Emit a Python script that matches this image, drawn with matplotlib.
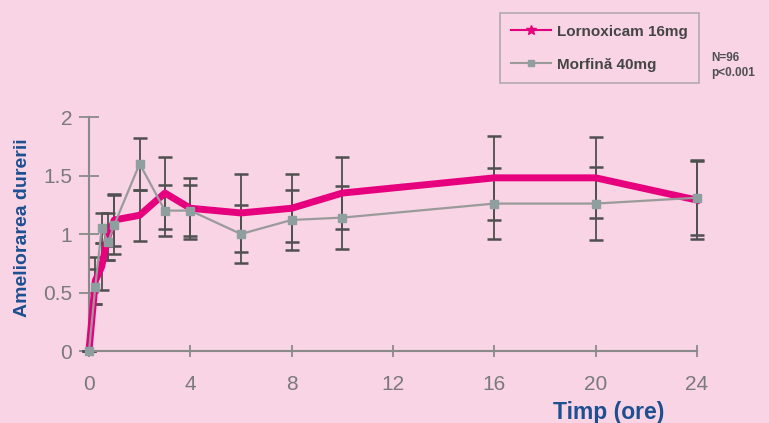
import matplotlib
matplotlib.use("Agg")
from matplotlib import pyplot as plt
from matplotlib.lines import Line2D

plt.rcParams['font.family'] = ['Liberation Sans', 'DejaVu Sans']

BG = '#f8d4e5'
PINK = '#e6007e'
GREY = '#9a9a9a'
BAR = '#505050'

# time points (hours)
timp = [0, 0.25, 0.5, 0.75, 1, 2, 3, 4, 6, 8, 10, 16, 20, 24]

lornoxicam = [0, 0.60, 0.72, 0.98, 1.12, 1.16, 1.35, 1.22, 1.18, 1.22, 1.35, 1.48, 1.48, 1.29]
lornoxicam_err = [0, 0.20, 0.20, 0.20, 0.22, 0.22, 0.31, 0.26, 0.33, 0.29, 0.31, 0.36, 0.345, 0.33]

morfina = [0, 0.55, 1.05, 0.93, 1.08, 1.60, 1.20, 1.20, 1.00, 1.12, 1.14, 1.26, 1.26, 1.31]
morfina_err = [0, 0.15, 0.13, 0.15, 0.25, 0.22, 0.22, 0.22, 0.25, 0.26, 0.27, 0.30, 0.31, 0.32]

xticks = [0, 4, 8, 12, 16, 20, 24]
yticks = [0, 0.5, 1, 1.5, 2]
yticklabels = ['0', '0.5', '1', '1.5', '2']

fig = plt.figure(figsize=(7.69, 4.23), dpi=100, facecolor=BG)
ax = fig.add_axes([0.1157, 0.1702, 0.7906, 0.5532])
ax.set_facecolor(BG)

ax.errorbar(timp, lornoxicam, yerr=lornoxicam_err, fmt='none', ecolor=BAR,
            elinewidth=1.3, capsize=5, capthick=1.8, clip_on=False, zorder=2)
ax.errorbar(timp, morfina, yerr=morfina_err, fmt='none', ecolor=BAR,
            elinewidth=1.3, capsize=5, capthick=1.8, clip_on=False, zorder=2)
ax.plot(timp, lornoxicam, color=PINK, lw=5, solid_joinstyle='round',
        clip_on=False, zorder=3)
ax.plot(timp, morfina, color=GREY, lw=1.6, marker='s', ms=6,
        markerfacecolor='#8f9f9f', markeredgecolor='#8f9f9f', clip_on=False, zorder=4)

ax.set_xlim(0, 24)
ax.set_ylim(0, 2)
ax.set_xticks(xticks)
ax.set_yticks(yticks)
ax.set_yticklabels(yticklabels)
for s in ['top', 'right']:
    ax.spines[s].set_visible(False)
for s in ['left', 'bottom']:
    ax.spines[s].set_color('#8a8a8a')
    ax.spines[s].set_linewidth(1.5)
ax.tick_params(direction='inout', color='#8a8a8a', width=1.3,
               labelcolor='#7a7a7a', labelsize=15)
ax.tick_params(axis='x', length=9, pad=13)
ax.tick_params(axis='y', length=14, pad=5)

fig.text(0.029, 0.461, 'Ameliorarea durerii', rotation=90, ha='center', va='center',
         fontsize=14, fontweight='bold', color='#1d4f91')
fig.text(0.791, 0.026, 'Timp (ore)', ha='center', va='center',
         fontsize=16.5, fontweight='bold', color='#1d4f91')

handles = [Line2D([], [], color=PINK, lw=1.5, marker='*', ms=7),
           Line2D([], [], color=GREY, lw=1.5, marker='s', ms=5,
                  markerfacecolor='#8f9f9f', markeredgecolor='#8f9f9f')]
leg = fig.legend(handles, ['Lornoxicam 16mg', 'Morfină 40mg'],
                 loc='upper left', bbox_to_anchor=(0.650, 0.969), borderaxespad=0,
                 frameon=True, fancybox=False, facecolor=BG, edgecolor='#a0a0a0',
                 fontsize=11, handlelength=2.6, labelspacing=1.25,
                 borderpad=0.75, handletextpad=0.4)
leg.get_frame().set_linewidth(1.2)
for t in leg.get_texts():
    t.set_color('#454545')
    t.set_fontweight('bold')

fig.text(0.925, 0.845, 'N=96\np<0.001', ha='left', va='center', fontsize=8.5,
         color='#505050', fontweight='bold', linespacing=1.3)

fig.savefig('out.png', dpi=100, facecolor=BG)
